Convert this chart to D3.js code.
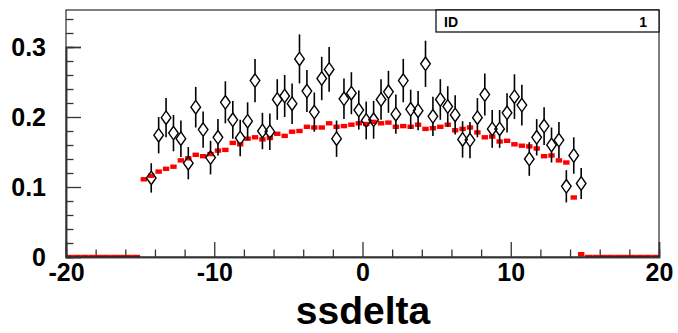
<!DOCTYPE html>
<html><head><meta charset="utf-8">
<script src="https://cdn.jsdelivr.net/npm/d3@7"></script>
<style>
html,body{margin:0;padding:0;background:#fff;}
svg{display:block;}
text{font-family:"Liberation Sans",Arial,Helvetica,sans-serif;font-weight:bold;}
</style></head>
<body><svg id="c" width="678" height="333"></svg>
<script>
// ---- data ----
const xMin = -20, xMax = 20, binWidth = 0.5;
// data points (open diamonds) at bin centres
const dataX = [-14.25,-13.75,-13.25,-12.75,-12.25,-11.75,-11.25,-10.75,-10.25,-9.75,-9.25,-8.75,-8.25,-7.75,-7.25,-6.75,-6.25,-5.75,-5.25,-4.75,-4.25,-3.75,-3.25,-2.75,-2.25,-1.75,-1.25,-0.75,-0.25,
  0.25,0.75,1.25,1.75,2.25,2.75,3.25,3.75,4.25,4.75,5.25,5.75,6.25,6.75,7.25,7.75,8.25,8.75,9.25,9.75,10.25,10.75,11.25,11.75,12.25,12.75,13.25,13.75,14.25,14.75];
const dataY = [0.113,0.174,0.199,0.177,0.169,0.134,0.214,0.182,0.142,0.171,0.221,0.196,0.170,0.194,0.252,0.180,0.179,0.225,0.230,0.219,0.283,0.237,0.207,0.255,0.268,0.169,0.226,0.234,0.210,
  0.195,0.196,0.225,0.236,0.204,0.252,0.211,0.209,0.276,0.201,0.225,0.215,0.203,0.168,0.167,0.199,0.232,0.183,0.183,0.206,0.229,0.217,0.140,0.171,0.187,0.160,0.167,0.101,0.145,0.105];
const dataErr = [0.021,0.026,0.028,0.026,0.026,0.023,0.029,0.026,0.024,0.026,0.030,0.027,0.026,0.027,0.031,0.026,0.026,0.029,0.030,0.029,0.035,0.030,0.028,0.031,0.032,0.026,0.029,0.030,0.028,
  0.027,0.027,0.029,0.030,0.028,0.031,0.028,0.028,0.033,0.028,0.029,0.029,0.028,0.026,0.026,0.028,0.030,0.027,0.027,0.028,0.032,0.029,0.024,0.026,0.027,0.025,0.026,0.023,0.026,0.022];
// reference histogram (red), 80 bins from -20 to 20
const refY = [0,0,0,0,0,0,0,0,0,0,
  0.111,0.116,0.122,0.126,0.129,0.138,0.141,0.146,0.144,0.147,0.152,0.153,0.163,0.161,0.169,0.171,0.168,0.170,0.176,0.173,
  0.179,0.180,0.186,0.185,0.185,0.191,0.186,0.187,0.189,0.191,
  0.190,0.193,0.191,0.192,0.186,0.187,0.186,0.189,0.183,0.184,0.186,0.189,0.181,0.183,0.185,0.178,0.171,0.172,0.165,0.166,
  0.161,0.159,0.158,0.155,0.144,0.145,0.138,0.135,0.085,0.004,
  0,0,0,0,0,0,0,0,0,0];
const yMajor = [0, 0.1, 0.2, 0.3];
const yMinor = [0.02,0.04,0.06,0.08,0.12,0.14,0.16,0.18,0.22,0.24,0.26,0.28,0.32,0.34];
const xMajor = [-20, -10, 0, 10, 20];
const xMinor = [-18,-16,-14,-12,-8,-6,-4,-2,2,4,6,8,12,14,16,18];
const xTitle = "ssdelta";
const statLabel = "ID", statValue = "1";

// ---- layout ----
const L = 66, R = 659, T = 10, B = 257;
const svg = d3.select("#c");
const x = d3.scaleLinear().domain([xMin, xMax]).range([L, R]);
const y = d3.scaleLinear().domain([0, 0.3]).range([B, B - 210]);

svg.append("defs").append("clipPath").attr("id","pc").append("rect")
  .attr("x", L).attr("y", T).attr("width", R - L).attr("height", B - T);

// reference histogram
const gRef = svg.append("g").attr("clip-path","url(#pc)");
refY.forEach((v, i) => {
  const x0 = x(xMin + i * binWidth), x1 = x(xMin + (i + 1) * binWidth);
  gRef.append("rect")
    .attr("x", v > 0 ? x0 + 0.5 : x0).attr("width", v > 0 ? x1 - x0 - 1 : x1 - x0)
    .attr("y", y(v) - 2.2).attr("height", 4.4)
    .attr("fill", "#ff0000");
});

// data points
const gPts = svg.append("g");
const hw = 4.8, hh = 6.8;
dataX.forEach((cx, i) => {
  const px = x(cx), py = y(dataY[i]);
  const yt = y(dataY[i] + dataErr[i]), yb = y(dataY[i] - dataErr[i]);
  gPts.append("line").attr("x1", px).attr("x2", px).attr("y1", yt).attr("y2", py - hh)
    .attr("stroke", "#000").attr("stroke-width", 1.6);
  gPts.append("line").attr("x1", px).attr("x2", px).attr("y1", py + hh).attr("y2", yb)
    .attr("stroke", "#000").attr("stroke-width", 1.6);
  gPts.append("path")
    .attr("d", `M${px},${py - hh}L${px + hw},${py}L${px},${py + hh}L${px - hw},${py}Z`)
    .attr("fill", "none").attr("stroke", "#000").attr("stroke-width", 1.4);
});

// frame
svg.append("rect").attr("x", L).attr("y", T).attr("width", R - L).attr("height", B - T)
  .attr("fill", "none").attr("stroke", "#000").attr("stroke-width", 1);

// axes
const fs = 25;
const fmtY = d => d === 0 ? "0" : d3.format(".1f")(d);
const fmtX = d => String(d);
const yAx = svg.append("g").attr("transform", `translate(${L},0)`)
  .call(d3.axisLeft(y).tickValues(yMajor).tickSize(-15).tickPadding(20).tickFormat(fmtY));
const yAxMin = svg.append("g").attr("transform", `translate(${L},0)`)
  .call(d3.axisLeft(y).tickValues(yMinor).tickSize(-7.5).tickFormat(""));
const xAx = svg.append("g").attr("transform", `translate(0,${B})`)
  .call(d3.axisBottom(x).tickValues(xMajor).tickSize(-15).tickPadding(6).tickFormat(fmtX));
const xAxMin = svg.append("g").attr("transform", `translate(0,${B})`)
  .call(d3.axisBottom(x).tickValues(xMinor).tickSize(-7.5).tickFormat(""));
[yAx, yAxMin, xAx, xAxMin].forEach(g => {
  g.select(".domain").attr("stroke", "#333").attr("stroke-width", 1.5);
  g.selectAll(".tick line").attr("stroke", "#333").attr("stroke-width", 1.3);
  g.selectAll("text").attr("font-size", fs).attr("fill", "#000")
    .attr("font-family", '"Liberation Sans",Arial,sans-serif').attr("font-weight", "bold");
});
yAx.selectAll("text").attr("dy", "0.35em");

// axis title
svg.append("text").attr("x", (L + R) / 2 + 0.5).attr("y", 324).attr("text-anchor", "middle")
  .attr("font-size", 39).text(xTitle);

// stat box
const bx0 = 436, by0 = T, bx1 = R, by1 = 32;
svg.append("rect").attr("x", bx0).attr("y", by0).attr("width", bx1 - bx0).attr("height", by1 - by0)
  .attr("fill", "#fff").attr("stroke", "#000").attr("stroke-width", 1.2);
svg.append("text").attr("x", bx0 + 8).attr("y", 26.5).attr("font-size", 14).text(statLabel);
svg.append("text").attr("x", bx1 - 12).attr("y", 26.5).attr("text-anchor", "end").attr("font-size", 14).text(statValue);
</script></body></html>
